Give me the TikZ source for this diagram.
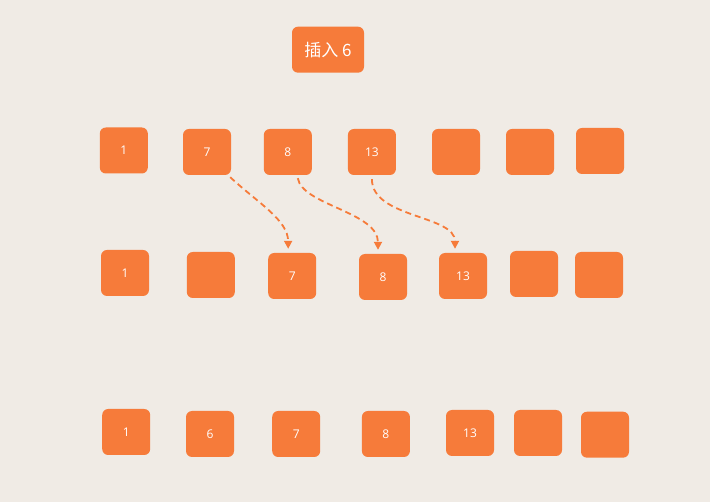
\documentclass[tikz,border=0pt]{standalone}
\usepackage{fontspec}
\setmainfont{Open Sans}
\newfontfamily\cjk{Noto Sans CJK SC}
\usetikzlibrary{arrows.meta,calc}
\definecolor{bgc}{HTML}{F0EBE5}
\definecolor{org}{HTML}{F67B3A}
\tikzset{
  cell/.style={fill=org,draw=none,rounded corners=6pt,minimum width=48pt,minimum height=46pt,inner sep=0pt,text=white,font=\fontsize{12}{13}\selectfont},
  titlebox/.style={fill=org,draw=none,rounded corners=6pt,minimum width=72pt,minimum height=46pt,inner sep=0pt,text=white,font=\fontsize{17}{19}\selectfont},
  mv/.style={draw=org,line width=1.8pt,dashed,dash pattern=on 6pt off 4pt,-{Triangle[length=8pt,width=8pt]}}
}
\begin{document}
\begin{tikzpicture}[x=1pt,y=-1pt]
\fill[bgc] (0,0) rectangle (710,502);
\useasboundingbox (0,0) rectangle (710,502);
\node[titlebox] (t) at (328,49.7) {\cjk 插入\ 6};
% row 1
\node[cell] (a1) at (123.8,150.5) {1};
\node[cell] (a2) at (207,152) {7};
\node[cell] (a3) at (287.8,152) {8};
\node[cell] (a4) at (371.9,152) {13};
\node[cell] (a5) at (456,152) {};
\node[cell] (a6) at (530,152) {};
\node[cell] (a7) at (600,151) {};
% row 2
\node[cell] (b1) at (125,273) {1};
\node[cell] (b2) at (210.8,275) {};
\node[cell] (b3) at (292.2,276) {7};
\node[cell] (b4) at (383,277) {8};
\node[cell] (b5) at (463,276) {13};
\node[cell] (b6) at (534,274) {};
\node[cell] (b7) at (599,275) {};
% row 3
\node[cell] (c1) at (126.2,432) {1};
\node[cell] (c2) at (210,434) {6};
\node[cell] (c3) at (296.2,434) {7};
\node[cell] (c4) at (385.9,434) {8};
\node[cell] (c5) at (470,433) {13};
\node[cell] (c6) at (538,433) {};
\node[cell] (c7) at (605,434.7) {};
% arrows
\coordinate (s1) at ([xshift=-1pt,yshift=-2pt]a2.south east);
\coordinate (e1) at ([xshift=-4pt,yshift=4pt]b3.north);
\coordinate (s2) at ([xshift=10pt,yshift=-3pt]a3.south);
\coordinate (e2) at ([xshift=-5pt,yshift=4pt]b4.north);
\coordinate (s3) at ([xshift=0pt,yshift=-4pt]a4.south);
\coordinate (e3) at ([xshift=-8pt,yshift=4pt]b5.north);
\draw[mv] (s1) .. controls (258,203) and (288,220) .. (e1);
\draw[mv] (s2) .. controls (302,205) and (378,212) .. (e2);
\draw[mv] (s3) .. controls (372,218) and (455,215) .. (e3);
\end{tikzpicture}
\end{document}
